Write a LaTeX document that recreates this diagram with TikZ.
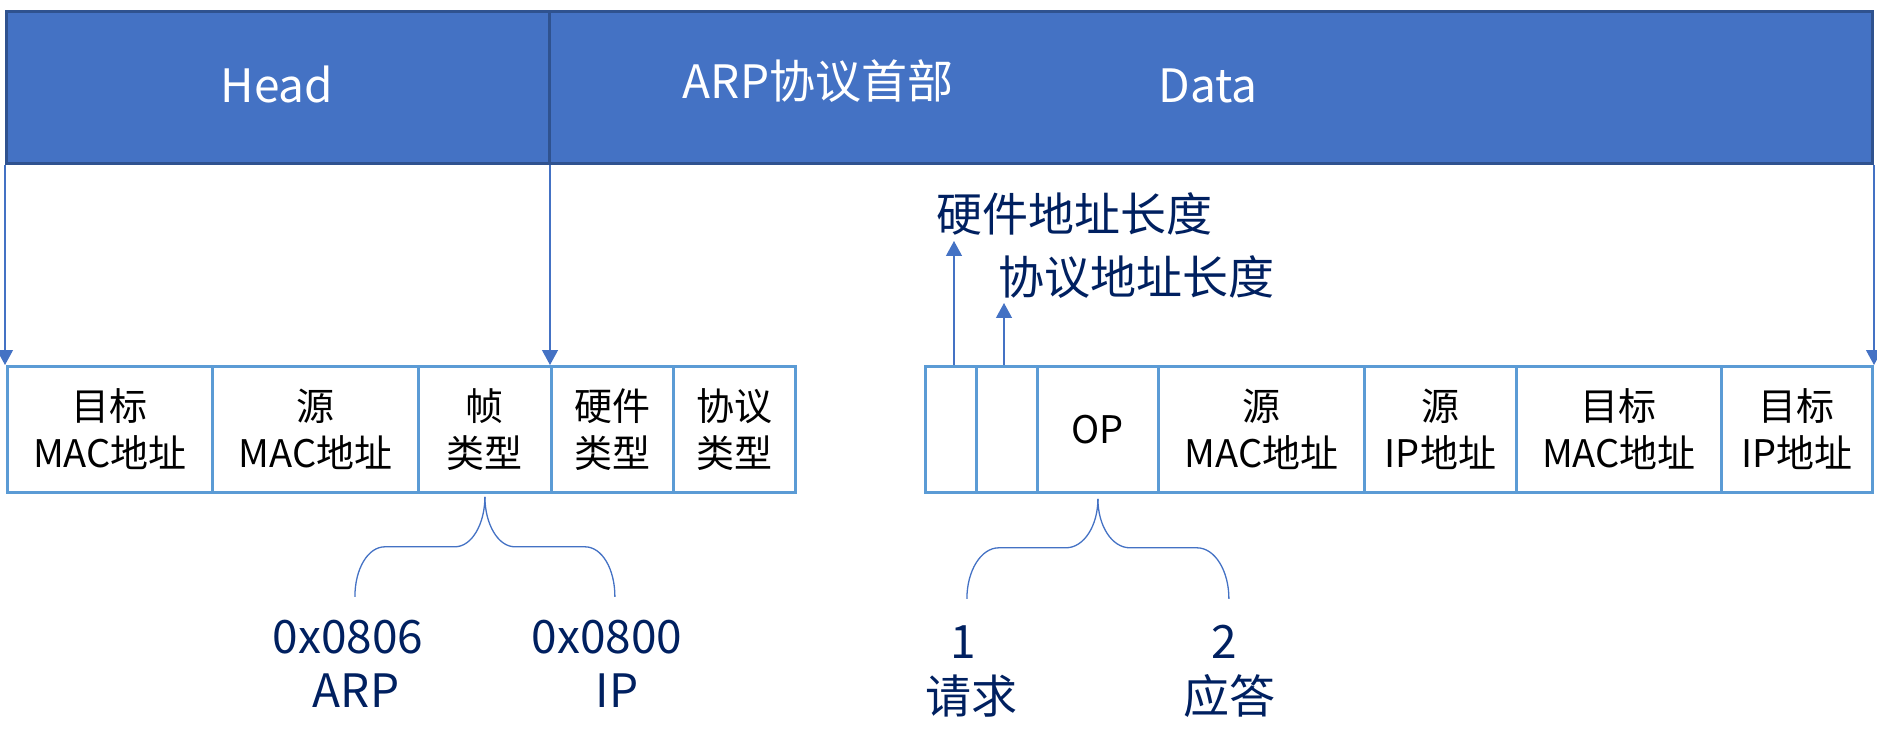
\documentclass[tikz,border=0pt]{standalone}
\usepackage{fontspec}
\setmainfont{Noto Sans CJK SC}
\usetikzlibrary{arrows.meta}
\definecolor{barblue}{HTML}{4472C4}
\definecolor{bardark}{HTML}{2F528F}
\definecolor{boxblue}{HTML}{5B9BD5}
\definecolor{navy}{HTML}{002060}
\begin{document}
\begin{tikzpicture}[x=1pt,y=-1pt,
 bar/.style={draw=bardark,fill=barblue,line width=3pt,anchor=north west,inner sep=0pt,minimum height=152pt},
 bartext/.style={text=white,font=\fontsize{46}{55}\selectfont,anchor=base},
 field/.style={draw=boxblue,line width=2.8pt,anchor=north west,inner sep=0pt,align=center,minimum height=126pt,font=\fontsize{38}{47}\selectfont},
 lbl/.style={text=navy,font=\fontsize{46}{55}\selectfont,anchor=base},
 sidelbl/.style={text=navy,font=\fontsize{46}{55}\selectfont,anchor=base west},
 conn/.style={draw=barblue,line width=1.2pt},
 tip/.style={-{Triangle[length=15pt,width=16pt]}},
 brace/.style={draw=barblue,line width=1.3pt}
]
\useasboundingbox (0,0) rectangle (1877,735);
% top bar
\node[bar,minimum width=543pt] (head) at (5,10) {};
\node[bar,minimum width=1323pt] (data) at (548,10) {};
\node[bartext] (headt) at (277,103) {Head};
\node[bartext] (arpt) at (818,99) {ARP协议首部};
\node[bartext] (datat) at (1208,103) {Data};
% left fields
\node[field,minimum width=205pt] (b1) at (6,365) {目标\\MAC地址};
\node[field,minimum width=206pt] (b2) at (211,365) {源\\MAC地址};
\node[field,minimum width=133pt] (b3) at (417,365) {帧\\类型};
\node[field,minimum width=122pt] (b4) at (550,365) {硬件\\类型};
\node[field,minimum width=122pt] (b5) at (672,365) {协议\\类型};
% right fields
\node[field,minimum width=51pt] (r1) at (924,365) {};
\node[field,minimum width=61pt] (r2) at (975,365) {};
\node[field,minimum width=121pt] (r3) at (1036,365) {OP};
\node[field,minimum width=206pt] (r4) at (1157,365) {源\\MAC地址};
\node[field,minimum width=152pt] (r5) at (1363,365) {源\\IP地址};
\node[field,minimum width=205pt] (r6) at (1515,365) {目标\\MAC地址};
\node[field,minimum width=151pt] (r7) at (1720,365) {目标\\IP地址};
% down arrows
\draw[conn,tip] (head.south west) -- (head.south west |- b1.north);
\draw[conn,tip] (b4.north west |- head.south) -- (b4.north west);
\draw[conn,tip] (data.south east) -- (data.south east |- r7.north);
% up arrows and labels
\node[sidelbl] (hwl) at (933,232) {硬件地址长度};
\node[sidelbl] (prl) at (995,295) {协议地址长度};
\coordinate (hwtip) at (954,241);
\coordinate (prtip) at (1004,303);
\draw[conn,tip] (hwtip |- r1.north) -- (hwtip);
\draw[conn,tip] (prtip |- r2.north) -- (prtip);
% braces
\draw[brace] ([yshift=-3pt]b3.south) .. controls +(0,27) and +(17,0) .. ++(-30,50) -- ++(-70,0) .. controls +(-17,0) and +(0,-28) .. ++(-30,50);
\draw[brace] ([yshift=-3pt]b3.south) .. controls +(0,27) and +(-17,0) .. ++(30,50) -- ++(70,0) .. controls +(17,0) and +(0,-28) .. ++(30,50);
\draw[brace] ([yshift=-5pt]r3.south) .. controls +(0,27) and +(18,0) .. ++(-32,49) -- ++(-67,0) .. controls +(-18,0) and +(0,-28) .. ++(-32,51);
\draw[brace] ([yshift=-5pt]r3.south) .. controls +(0,27) and +(-18,0) .. ++(32,49) -- ++(67,0) .. controls +(18,0) and +(0,-28) .. ++(32,51);
% bottom labels
\node[lbl] (v1a) at (348,653) {0x0806};
\node[lbl] (v1b) at (356,707) {ARP};
\node[lbl] (v2a) at (607,653) {0x0800};
\node[lbl] (v2b) at (617,707) {IP};
\node[lbl] (o1a) at (963,658) {1};
\node[lbl] (o1b) at (971,713) {请求};
\node[lbl] (o2a) at (1224,658) {2};
\node[lbl] (o2b) at (1229,713) {应答};
\end{tikzpicture}
\end{document}
